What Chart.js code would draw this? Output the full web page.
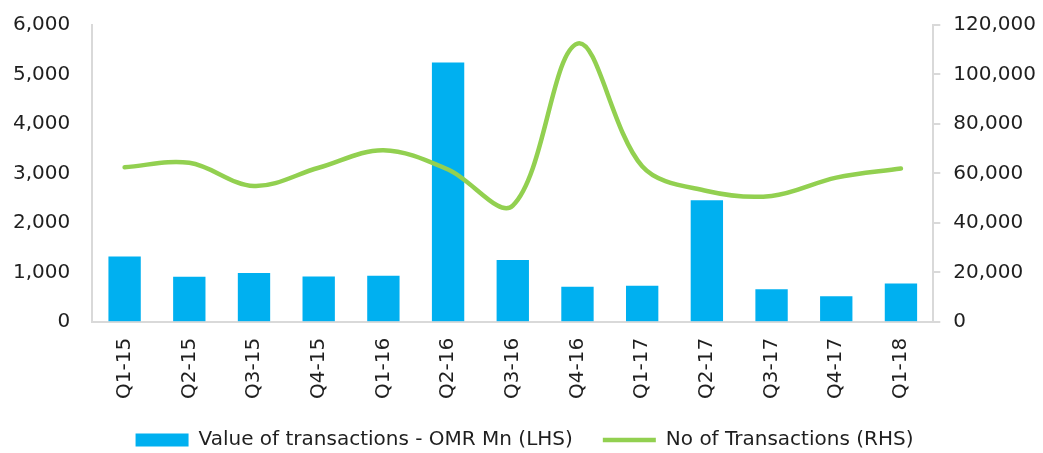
<!DOCTYPE html>
<html>
<head>
<meta charset="utf-8">
<script src="https://cdn.jsdelivr.net/npm/chart.js@4/dist/chart.umd.min.js"></script>
<style>
    html, body { margin: 0; padding: 0; background: #ffffff; }
    #wrap { width: 1043px; height: 453px; }
</style>
</head>
<body>
<div id="wrap"><canvas id="chart" width="1043" height="453"></canvas></div>
<script>
    const quarters = ["Q1-15", "Q2-15", "Q3-15", "Q4-15", "Q1-16", "Q2-16", "Q3-16", "Q4-16", "Q1-17", "Q2-17", "Q3-17", "Q4-17", "Q1-18"];
    const valueOmrMn = [1320, 910, 990, 915, 930, 5240, 1250, 710, 730, 2460, 660, 520, 775];
    const noOfTransactions = [62500, 64300, 54900, 62300, 69400, 61600, 47000, 112500, 62900, 52900, 50900, 58300, 62000];
    const leftTicks = [0, 1000, 2000, 3000, 4000, 5000, 6000];
    const rightTicks = [0, 20000, 40000, 60000, 80000, 100000, 120000];

    const blue = "#00b0f0";
    const green = "#92d050";
    const axisGrey = "#d9d9d9";
    const textColor = "#1f1f1f";
    const fontFamily = "'DejaVu Sans', sans-serif";

    const fmt = (v) => Number(v).toLocaleString("en-US");

    // chart.js doubles the tick padding on vertical axes and adds it above the top label,
    // trim that back so the plot area sits where the original one does
    const trimAxis = (pad) => (axis) => {
        axis.width -= pad;
        axis.paddingTop = 12;
        axis.paddingBottom = 12;
    };

    new Chart(document.getElementById("chart"), {
        data: {
            labels: quarters,
            datasets: [
                {
                    type: "line",
                    label: "No of Transactions (RHS)",
                    data: noOfTransactions,
                    yAxisID: "yRight",
                    borderColor: green,
                    backgroundColor: green,
                    borderWidth: 4.5,
                    tension: 0.35,
                    pointRadius: 0,
                    pointHoverRadius: 0,
                    borderCapStyle: "round",
                    order: 1
                },
                {
                    type: "bar",
                    label: "Value of transactions - OMR Mn (LHS)",
                    data: valueOmrMn,
                    yAxisID: "yLeft",
                    backgroundColor: blue,
                    borderWidth: 0,
                    barPercentage: 0.5,
                    categoryPercentage: 1,
                    order: 2
                }
            ]
        },
        options: {
            responsive: false,
            animation: false,
            layout: { padding: { top: 25, left: 13, right: 7, bottom: -7 } },
            plugins: {
                tooltip: { enabled: false },
                legend: {
                    position: "bottom",
                    reverse: true,
                    labels: {
                        usePointStyle: true,
                        pointStyleWidth: 53,
                        boxHeight: 13,
                        padding: 30,
                        color: textColor,
                        font: { family: fontFamily, size: 20 },
                        generateLabels: (chart) => {
                            const items = Chart.defaults.plugins.legend.labels.generateLabels(chart);
                            items.forEach((item) => {
                                const ds = chart.data.datasets[item.datasetIndex];
                                if (ds.type === "line") {
                                    item.pointStyle = "line";
                                    item.strokeStyle = green;
                                    item.lineWidth = 4.5;
                                } else {
                                    item.pointStyle = "rect";
                                    item.fillStyle = blue;
                                    item.lineWidth = 0;
                                }
                            });
                            return items;
                        }
                    }
                }
            },
            scales: {
                x: {
                    afterFit: (axis) => { axis.height -= 15; },
                    grid: { display: false, drawTicks: false },
                    border: { color: axisGrey, width: 2 },
                    ticks: {
                        color: textColor,
                        font: { family: fontFamily, size: 20 },
                        minRotation: 90,
                        maxRotation: 90,
                        padding: 16
                    }
                },
                yLeft: {
                    position: "left",
                    min: 0,
                    max: 6000,
                    afterBuildTicks: (axis) => { axis.ticks = leftTicks.map((v) => ({ value: v })); },
                    afterFit: trimAxis(22),
                    grid: { drawOnChartArea: false, drawTicks: false },
                    border: { color: axisGrey, width: 2 },
                    ticks: {
                        color: textColor,
                        font: { family: fontFamily, size: 20 },
                        padding: 22,
                        callback: (v) => fmt(v)
                    }
                },
                yRight: {
                    position: "right",
                    min: 0,
                    max: 120000,
                    afterBuildTicks: (axis) => { axis.ticks = rightTicks.map((v) => ({ value: v })); },
                    afterFit: trimAxis(13),
                    grid: { drawOnChartArea: false, color: axisGrey, tickLength: 7, lineWidth: 2 },
                    border: { color: axisGrey, width: 2 },
                    ticks: {
                        color: textColor,
                        font: { family: fontFamily, size: 20 },
                        padding: 13,
                        callback: (v) => fmt(v)
                    }
                }
            }
        }
    });
</script>
</body>
</html>
